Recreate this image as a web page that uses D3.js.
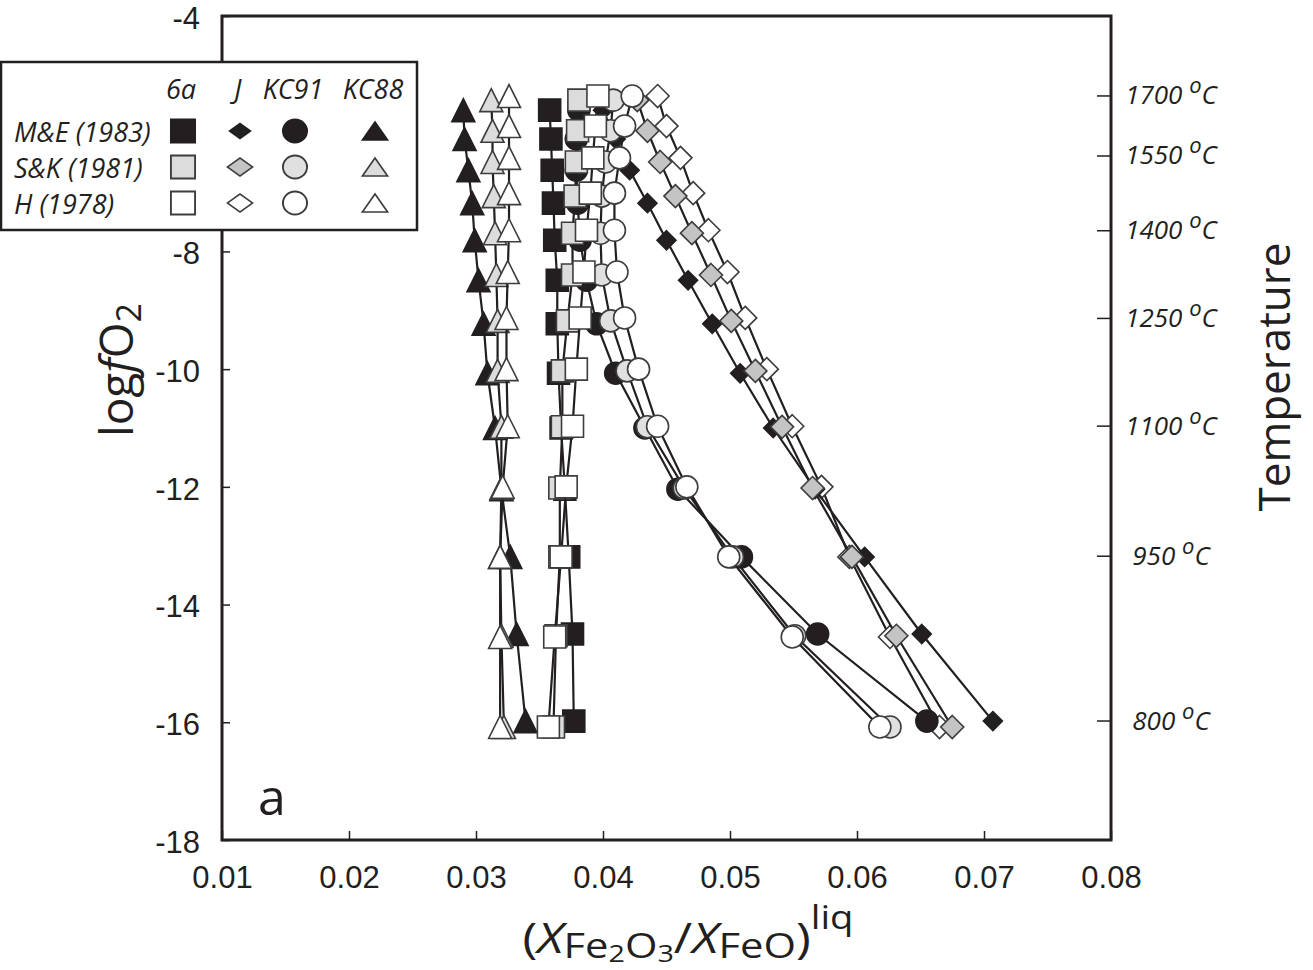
<!DOCTYPE html>
<html>
<head>
<meta charset="utf-8">
<script src="https://cdn.jsdelivr.net/npm/d3@7"></script>
<style>
body{margin:0;background:#fff}
svg{display:block}
</style>
</head>
<body>
<svg id="chart"></svg>
<script>
// log fO2 of each point, one list per buffer calibration (M&E 1983, S&K 1981, H 1978)
const logfO2_ME = [-5.60,-6.09,-6.62,-7.18,-7.81,-8.49,-9.23,-10.07,-11.00,-12.04,-13.19,-14.50,-15.98];
const logfO2_SK = [-5.43,-5.95,-6.48,-7.06,-7.69,-8.40,-9.18,-10.03,-10.98,-12.02,-13.19,-14.53,-16.08];
const logfO2_H  = [-5.36,-5.87,-6.41,-7.01,-7.64,-8.35,-9.13,-10.00,-10.97,-12.00,-13.19,-14.55,-16.08];

// (XFe2O3/XFeO)liq for each model and calibration
const kc88_ME = [0.0290,0.0291,0.0294,0.0297,0.0299,0.0302,0.0306,0.0309,0.0315,0.0320,0.0327,0.0332,0.0339];
const kc88_SK = [0.0312,0.0313,0.0313,0.0314,0.0315,0.0316,0.0317,0.0317,0.0320,0.0320,0.0319,0.0320,0.0322];
const kc88_H  = [0.0326,0.0326,0.0326,0.0326,0.0326,0.0325,0.0324,0.0324,0.0325,0.0321,0.0319,0.0319,0.0319];

const j_ME = [0.0400,0.0410,0.0421,0.0435,0.0450,0.0467,0.0486,0.0508,0.0534,0.0567,0.0606,0.0651,0.0707];
const j_SK = [0.0427,0.0435,0.0445,0.0457,0.0470,0.0485,0.0501,0.0520,0.0541,0.0565,0.0596,0.0631,0.0675];
const j_H  = [0.0443,0.0450,0.0461,0.0471,0.0483,0.0498,0.0512,0.0529,0.0549,0.0572,0.0594,0.0626,0.0665];

const kc91_ME = [0.0381,0.0379,0.0379,0.0380,0.0382,0.0387,0.0395,0.0410,0.0433,0.0459,0.0509,0.0569,0.0655];
const kc91_SK = [0.0408,0.0406,0.0402,0.0399,0.0398,0.0399,0.0406,0.0419,0.0435,0.0464,0.0502,0.0551,0.0626];
const kc91_H  = [0.0423,0.0417,0.0413,0.0409,0.0409,0.0411,0.0417,0.0428,0.0443,0.0466,0.0499,0.0549,0.0618];

const m6a_ME = [0.0358,0.0359,0.0360,0.0361,0.0362,0.0364,0.0364,0.0365,0.0367,0.0370,0.0373,0.0376,0.0377];
const m6a_SK = [0.0381,0.0380,0.0379,0.0378,0.0376,0.0376,0.0372,0.0368,0.0368,0.0366,0.0366,0.0363,0.0361];
const m6a_H  = [0.0396,0.0394,0.0392,0.0390,0.0387,0.0385,0.0382,0.0379,0.0376,0.0371,0.0367,0.0362,0.0357];

// right-hand temperature scale
const tempLabels  = ["1700","1550","1400","1250","1100","950","800"];
const tempLogfO2  = [-5.35,-6.37,-7.64,-9.13,-10.96,-13.17,-15.97];

const xTicks = [0.01,0.02,0.03,0.04,0.05,0.06,0.07,0.08];
const yTicks = [-18,-16,-14,-12,-10,-8,-6,-4];

const models = ["6a","J","KC91","KC88"];
const calibs = ["M&E (1983)","S&K (1981)","H (1978)"];

const width = 1313, height = 970,
      pLeft = 222, pRight = 1111, pTop = 16, pBottom = 840,
      ink = "#231f20";

let xScale = d3.scaleLinear().domain([0.01,0.08]).range([pLeft,pRight]),
    yScale = d3.scaleLinear().domain([-18,-4]).range([pBottom,pTop]);

let svg = d3.select("#chart").attr("width",width).attr("height",height);

// marker shapes
const shape = {
  "6a":   (s) => d3.symbol(d3.symbolSquare, s*s)(),
  "J":    (s) => `M0,${-s/2}L${s/2},0L0,${s/2}L${-s/2},0Z`,
  "KC91": (s) => d3.symbol(d3.symbolCircle, Math.PI*s*s/4)(),
  "KC88": (s) => `M0,${-s/2}L${s/2},${s/2}L${-s/2},${s/2}Z`
};
const markerSize = {"6a":22, "J":23, "KC91":22, "KC88":23};
const grayFill   = {"6a":"#dcdcdc", "J":"#c4c4c4", "KC91":"#e0e0e0", "KC88":"#dcdcdc"};
function fillOf(model, cal){
  if (cal === 0) return ink;
  if (cal === 1) return grayFill[model];
  return "#ffffff";
}
function sizeOf(model, cal){
  return (model === "J" && cal === 0) ? 19 : markerSize[model];
}

const calY = [logfO2_ME, logfO2_SK, logfO2_H];
const seriesX = {
  "KC88": [kc88_ME, kc88_SK, kc88_H],
  "J":    [j_ME, j_SK, j_H],
  "KC91": [kc91_ME, kc91_SK, kc91_H],
  "6a":   [m6a_ME, m6a_SK, m6a_H]
};
// drawing order (later on top)
const drawOrder = [
  ["KC88",0],["KC88",1],["KC88",2],
  ["J",2],["J",0],["J",1],
  ["KC91",0],["KC91",1],["KC91",2],
  ["6a",0],["6a",1],["6a",2]
];

let line = d3.line().x(d=>xScale(d[0])).y(d=>yScale(d[1]));

// axes
let yAxis = d3.axisLeft(yScale).tickValues(yTicks).tickSizeInner(-8).tickSizeOuter(0)
              .tickPadding(22).tickFormat(d=>String(d));
let xAxis = d3.axisBottom(xScale).tickValues(xTicks).tickSizeInner(-9).tickSizeOuter(0)
              .tickPadding(26).tickFormat(d3.format(".2f"));
let tAxis = d3.axisLeft(yScale).tickValues(tempLogfO2).tickSizeInner(14).tickSizeOuter(0).tickFormat("");

let gy = svg.append("g").attr("transform",`translate(${pLeft},0)`).call(yAxis);
let gx = svg.append("g").attr("transform",`translate(0,${pBottom})`).call(xAxis);
let gt = svg.append("g").attr("transform",`translate(${pRight},0)`).call(tAxis);
[gy,gx,gt].forEach(g=>{
  g.select(".domain").remove();
  g.selectAll(".tick line").attr("stroke",ink).attr("stroke-width",1.5);
  g.selectAll(".tick text").attr("fill",ink).style("font-family","Liberation Sans, Arial, sans-serif").style("font-size","31px");
});
gy.selectAll(".tick text").attr("dy","0.4em");
gt.selectAll(".tick line").attr("x2",-14);

// data
drawOrder.forEach(([model,cal])=>{
  let pts = seriesX[model][cal].map((x,i)=>[x, calY[cal][i]]);
  svg.append("path")
     .attr("d",line(pts))
     .attr("fill","none")
     .attr("stroke",ink)
     .attr("stroke-width",2.2);
  svg.append("g").selectAll("path")
     .data(pts)
     .enter()
     .append("path")
     .attr("transform",d=>`translate(${xScale(d[0])},${yScale(d[1])})`)
     .attr("d",shape[model](sizeOf(model,cal)))
     .attr("fill",fillOf(model,cal))
     .attr("stroke",cal===0 ? ink : "#3c3c3c")
     .attr("stroke-width",1.6);
});

// frame
svg.append("rect")
   .attr("x",pLeft).attr("y",pTop)
   .attr("width",pRight-pLeft).attr("height",pBottom-pTop)
   .attr("fill","none").attr("stroke",ink).attr("stroke-width",3);

// temperature labels
tempLabels.forEach((t,i)=>{
  let txt = svg.append("text")
     .attr("x",1171).attr("y",yScale(tempLogfO2[i])+9)
     .attr("text-anchor","middle")
     .style("font-family","Open Sans, sans-serif")
     .style("font-style","italic")
     .style("font-size","26px")
     .attr("fill",ink);
  txt.append("tspan").text(t+" ");
  txt.append("tspan").attr("dy",-11).style("font-size","22px").text("o");
  txt.append("tspan").attr("dy",11).text("C");
});

// axis titles
let yt = svg.append("text")
   .attr("transform","translate(133,370) rotate(-90)")
   .attr("text-anchor","middle")
   .style("font-family","Open Sans, sans-serif")
   .style("font-size","46px")
   .attr("fill",ink);
yt.append("tspan").text("log");
yt.append("tspan").style("font-style","italic").text("f");
yt.append("tspan").text("O");
yt.append("tspan").attr("dy",8).style("font-size","34px").text("2");

svg.append("text")
   .attr("transform","translate(1290,377) rotate(-90)")
   .attr("text-anchor","middle")
   .style("font-family","Open Sans, sans-serif")
   .style("font-size","44px")
   .attr("fill",ink)
   .text("Temperature");

let xtG = svg.append("g");
let xt = xtG.append("text")
   .attr("x",0).attr("y",953)
   .attr("text-anchor","middle")
   .style("font-family","Open Sans, sans-serif")
   .style("font-size","42px")
   .attr("fill",ink);
xt.append("tspan").text("(");
xt.append("tspan").style("font-style","italic").text("X");
xt.append("tspan").attr("dy",5).style("font-size","35px").text("Fe");
xt.append("tspan").attr("dy",4).style("font-size","24px").text("2");
xt.append("tspan").attr("dy",-4).style("font-size","35px").text("O");
xt.append("tspan").attr("dy",4).style("font-size","24px").text("3");
xt.append("tspan").attr("dy",-9).text("/");
xt.append("tspan").style("font-style","italic").text("X");
xt.append("tspan").attr("dy",5).style("font-size","35px").text("FeO");
xt.append("tspan").attr("dy",-5).text(")");
xt.append("tspan").attr("dy",-24).style("font-size","32px").text("liq");
let xtw = xt.node().getBBox().width;
xtG.attr("transform",`translate(688,0) scale(${331/xtw},1)`);

svg.append("text")
   .attr("x",258).attr("y",815)
   .style("font-family","Open Sans, sans-serif")
   .style("font-size","50px")
   .attr("fill",ink)
   .text("a");

// legend
let lg = svg.append("g");
lg.append("rect")
  .attr("x",1).attr("y",62).attr("width",416).attr("height",168)
  .attr("fill","#fff").attr("stroke",ink).attr("stroke-width",2.5);
const colX = [183,240,295,375], rowY = [131,167,203];
models.forEach((m,i)=>{
  lg.append("text").attr("x",colX[i]-2).attr("y",99).attr("text-anchor","middle")
    .style("font-family","Open Sans, sans-serif").style("font-style","italic").style("font-size","27px")
    .attr("fill",ink).text(m);
});
calibs.forEach((c,j)=>{
  lg.append("text").attr("x",14).attr("y",rowY[j]+11)
    .style("font-family","Open Sans, sans-serif").style("font-style","italic").style("font-size","27px")
    .attr("fill",ink).text(c);
  models.forEach((m,i)=>{
    let sy = (m==="J"||m==="KC88") ? 0.75 : 1;
    lg.append("path")
      .attr("transform",`translate(${colX[i]},${rowY[j]}) scale(1.05,${sy})`)
      .attr("d",shape[m](sizeOf(m,j)+1))
      .attr("fill",fillOf(m,j))
      .attr("stroke",j===0 ? ink : "#3c3c3c")
      .attr("stroke-width",1.8);
  });
});
</script>
</body>
</html>
